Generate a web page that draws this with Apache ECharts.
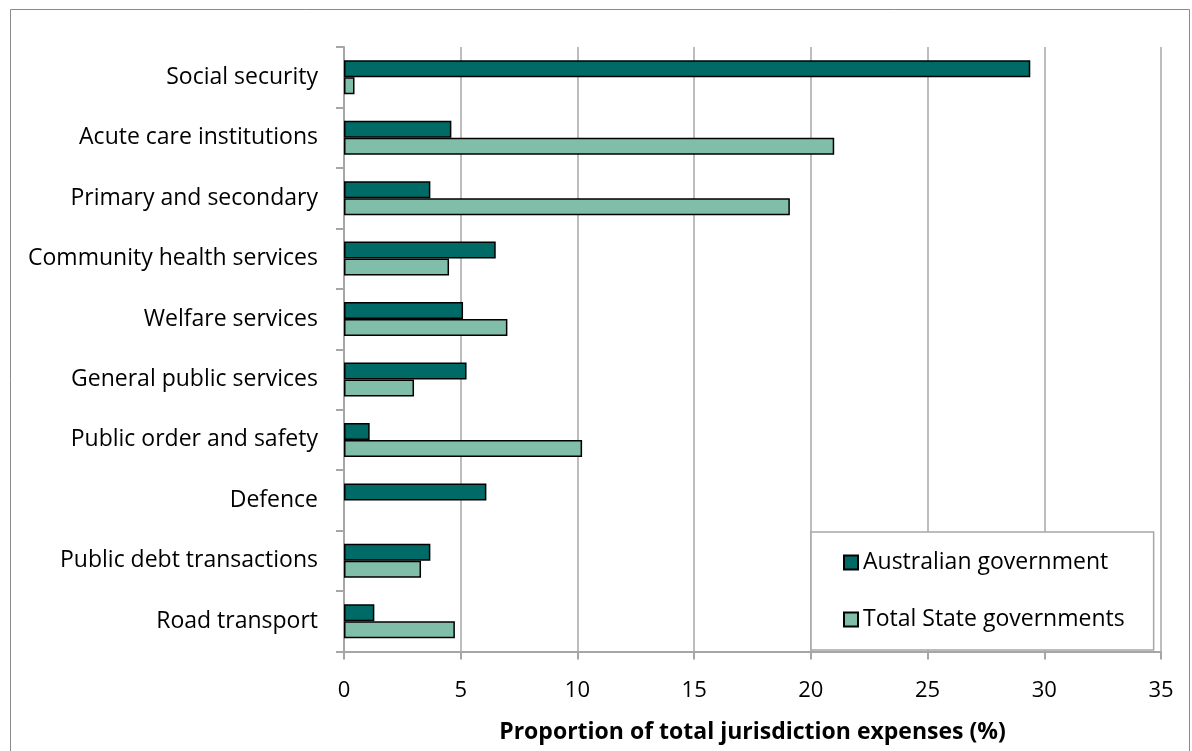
<!DOCTYPE html>
<html><head><meta charset="utf-8">
<script src="https://cdn.jsdelivr.net/npm/echarts@6/dist/echarts.min.js"></script>
<style>html,body{margin:0;padding:0;background:#fff}#c{width:1192px;height:751px}</style>
</head><body><div id="c"></div>
<script>
const categories = ['Social security','Acute care institutions','Primary and secondary','Community health services','Welfare services','General public services','Public order and safety','Defence','Public debt transactions','Road transport'];
const australian = [29.4, 4.6, 3.7, 6.5, 5.1, 5.25, 1.1, 6.1, 3.7, 1.3];
const states = [0.45, 21.0, 19.1, 4.5, 7.0, 3.0, 10.2, 0, 3.3, 4.75];
const seriesNames = ['Australian government','Total State governments'];
const xTicks = {min: 0, max: 35, interval: 5};
const FONT = 'Open Sans';
const noZero = a => a.map(v => v === 0 ? '-' : v);
const chart = echarts.init(document.getElementById('c'));
chart.setOption({
  animation: false,
  textStyle: {fontFamily: FONT},
  graphic: [{type:'rect', shape:{x:10.5,y:9.5,width:1179,height:760}, style:{fill:'none',stroke:'#8a8a8a',lineWidth:1}, silent:true, z:-10}],
  grid: {left: 344, right: 31, top: 47, bottom: 99.5},
  legend: {
    orient: 'vertical', left: 811, top: 532,
    padding: [19, 29, 19, 32], itemGap: 34,
    itemWidth: 14, itemHeight: 14, icon: 'rect',
    borderColor: '#a6a6a6', borderWidth: 1.5, backgroundColor: '#fff',
    textStyle: {fontSize: 23, color: '#000', fontFamily: FONT},
    data: seriesNames
  },
  xAxis: {
    type: 'value', min: xTicks.min, max: xTicks.max, interval: xTicks.interval,
    axisLine: {show: true, lineStyle: {color: '#a6a6a6', width: 2}},
    axisTick: {show: true, length: 8, lineStyle: {color: '#a6a6a6', width: 2}},
    splitLine: {show: true, lineStyle: {color: '#bdbdbd', width: 2}},
    axisLabel: {fontSize: 22, color: '#000', margin: 28},
    name: 'Proportion of total jurisdiction expenses (%)',
    nameLocation: 'middle', nameGap: 69,
    nameTextStyle: {fontSize: 23, fontWeight: 'bold', color: '#000'}
  },
  yAxis: {
    type: 'category', data: categories, inverse: true,
    axisLine: {show: true, lineStyle: {color: '#a6a6a6', width: 2}},
    axisTick: {show: true, length: 8, lineStyle: {color: '#a6a6a6', width: 2}},
    axisLabel: {fontSize: 23, color: '#000', margin: 26}
  },
  series: [
    {name: seriesNames[0], type: 'bar', data: noZero(australian), barWidth: 17, barGap: '0%',
     itemStyle: {color: '#006A66', borderColor: '#000', borderWidth: 1.5}},
    {name: seriesNames[1], type: 'bar', data: noZero(states), barWidth: 17, barGap: '0%',
     itemStyle: {color: '#80BEAA', borderColor: '#000', borderWidth: 1.5}}
  ]
});
</script></body></html>
